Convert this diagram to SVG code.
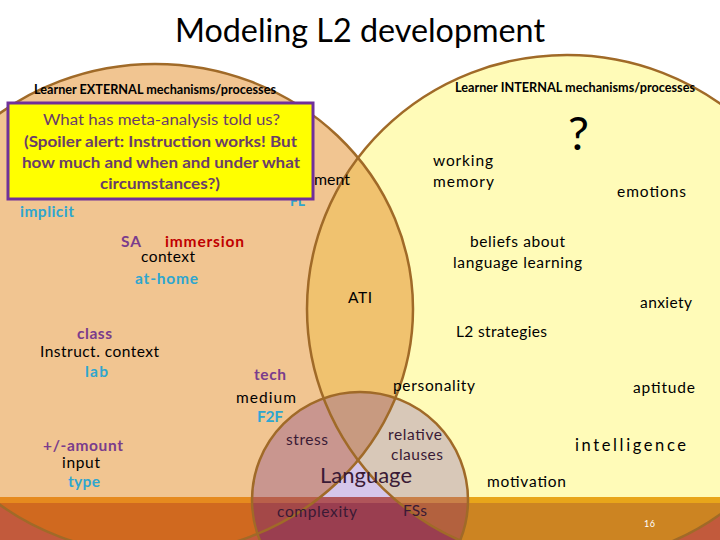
<svg xmlns="http://www.w3.org/2000/svg" width="720" height="540" viewBox="0 0 720 540">
<style>
text{font-family:Lato,"Open Sans","Liberation Sans",sans-serif;font-size:15.5px;fill:#000}
.b{font-weight:bold}
.pu{fill:#7A3C8C;font-weight:bold}
.te{fill:#2EA6CF;font-weight:bold}
.re{fill:#C00000;font-weight:bold}
.hd{font-size:12.5px;font-weight:bold}
.lg{fill:#3A1A35}
.bx{fill:#6A3D6A;font-size:15.5px}
.edge{fill:none;stroke:#A06A28;stroke-width:2.5}
</style>
<defs>
<clipPath id="cL"><ellipse cx="155" cy="309" rx="258" ry="245"/></clipPath>
<clipPath id="cR"><ellipse cx="567" cy="309" rx="260" ry="254"/></clipPath>
<clipPath id="cLang"><circle cx="360" cy="500" r="108"/></clipPath>
<clipPath id="cBand"><rect x="0" y="503" width="720" height="37"/></clipPath>
<clipPath id="cLine"><rect x="0" y="497" width="720" height="6"/></clipPath>
</defs>
<rect width="720" height="540" fill="#FFFFFF"/>
<g id="regions">
<ellipse cx="155" cy="309" rx="258" ry="245" fill="#F1C591"/>
<ellipse cx="567" cy="309" rx="260" ry="254" fill="#FFFBB8"/>
<g clip-path="url(#cR)"><ellipse cx="155" cy="309" rx="258" ry="245" fill="#F0C26F"/></g>
<g id="language-region" clip-path="url(#cLang)">
<rect x="240" y="380" width="240" height="160" fill="#D5C6EA"/>
<ellipse cx="155" cy="309" rx="258" ry="245" fill="#C9968F"/>
<ellipse cx="567" cy="309" rx="260" ry="254" fill="#D8C8B8"/>
<g clip-path="url(#cR)"><ellipse cx="155" cy="309" rx="258" ry="245" fill="#C89A80"/></g>
</g>
</g>
<g id="band">
<g clip-path="url(#cBand)">
<rect x="0" y="497" width="720" height="43" fill="#C25A3C"/>
<ellipse cx="155" cy="309" rx="258" ry="245" fill="#D0691F"/>
<ellipse cx="567" cy="309" rx="260" ry="254" fill="#CC8422"/>
<g clip-path="url(#cLang)">
<rect x="240" y="497" width="240" height="43" fill="#9A3E50"/>
<ellipse cx="155" cy="309" rx="258" ry="245" fill="#A44848"/>
<ellipse cx="567" cy="309" rx="260" ry="254" fill="#B3613E"/>
</g>
</g>
<g clip-path="url(#cLine)">
<rect x="0" y="497" width="720" height="6" fill="#D4703A"/>
<ellipse cx="155" cy="309" rx="258" ry="245" fill="#E68A1E"/>
<ellipse cx="567" cy="309" rx="260" ry="254" fill="#E8A51A"/>
<g clip-path="url(#cLang)">
<rect x="240" y="497" width="240" height="6" fill="#B0555A"/>
<ellipse cx="155" cy="309" rx="258" ry="245" fill="#B9604A"/>
<ellipse cx="567" cy="309" rx="260" ry="254" fill="#C98048"/>
</g>
</g>
</g>
<g id="connectors">
<ellipse class="edge" cx="155" cy="309" rx="258" ry="245"/>
<ellipse class="edge" cx="567" cy="309" rx="260" ry="254"/>
<circle class="edge" cx="360" cy="500" r="108" stroke="#A06A30"/>
</g>
<g id="title"><text x="175" y="42" textLength="370" lengthAdjust="spacingAndGlyphs" style="font-size:33px">Modeling L2 development</text></g>
<g id="external">
<text class="hd" x="34" y="94" textLength="242" lengthAdjust="spacingAndGlyphs">Learner EXTERNAL mechanisms/processes</text>
<text x="314" y="185" textLength="36" lengthAdjust="spacingAndGlyphs">ment</text>
<text class="te" x="290" y="206" textLength="15" lengthAdjust="spacingAndGlyphs">FL</text>
<text class="te" x="20" y="217" textLength="54" lengthAdjust="spacing">implicit</text>
<text class="pu" x="121" y="247" textLength="20" lengthAdjust="spacing">SA</text>
<text class="re" x="165" y="247" textLength="79" lengthAdjust="spacing">immersion</text>
<text x="141" y="262" textLength="54" lengthAdjust="spacing">context</text>
<text class="te" x="135" y="284" textLength="63" lengthAdjust="spacing">at-home</text>
<text class="pu" x="77" y="339" textLength="35" lengthAdjust="spacing">class</text>
<text x="40" y="357" textLength="119" lengthAdjust="spacing">Instruct. context</text>
<text class="te" x="85" y="377" textLength="23" lengthAdjust="spacing">lab</text>
<text class="pu" x="254" y="380" textLength="32" lengthAdjust="spacing">tech</text>
<text x="236" y="403" textLength="60" lengthAdjust="spacing">medium</text>
<text class="te" x="257" y="422" textLength="26" lengthAdjust="spacing">F2F</text>
<text class="pu" x="43" y="451" textLength="80" lengthAdjust="spacing">+/-amount</text>
<text x="62" y="468" textLength="38" lengthAdjust="spacing">input</text>
<text class="te" x="68" y="487" textLength="32" lengthAdjust="spacing">type</text>
</g>
<g id="callout">
<rect x="8" y="103" width="305" height="96" fill="#FFFF00" stroke="#70309A" stroke-width="3"/>
<text class="bx" x="161.5" y="125" text-anchor="middle" textLength="237" lengthAdjust="spacingAndGlyphs">What has meta-analysis told us?</text>
<text class="bx b" x="160.5" y="147" text-anchor="middle" textLength="273" lengthAdjust="spacingAndGlyphs">(Spoiler alert: Instruction works! But</text>
<text class="bx b" x="161" y="168" text-anchor="middle" textLength="278" lengthAdjust="spacingAndGlyphs">how much and when and under what</text>
<text class="bx b" x="160" y="189" text-anchor="middle" textLength="120" lengthAdjust="spacingAndGlyphs">circumstances?)</text>
</g>
<g id="overlap">
<text x="348" y="303" textLength="24" lengthAdjust="spacing">ATI</text>
</g>
<g id="internal">
<text class="hd" x="455" y="92" textLength="240" lengthAdjust="spacingAndGlyphs">Learner INTERNAL mechanisms/processes</text>
<text x="568" y="150" style="font-size:46px" textLength="21" lengthAdjust="spacingAndGlyphs">?</text>
<text x="433" y="166" textLength="60" lengthAdjust="spacing">working</text>
<text x="433" y="187" textLength="61" lengthAdjust="spacing">memory</text>
<text x="617" y="197" textLength="69" lengthAdjust="spacing">emotions</text>
<text x="470" y="247" textLength="95" lengthAdjust="spacing">beliefs about</text>
<text x="453" y="268" textLength="129" lengthAdjust="spacing">language learning</text>
<text x="640" y="308" textLength="52" lengthAdjust="spacing">anxiety</text>
<text x="456" y="337" textLength="91" lengthAdjust="spacing">L2 strategies</text>
<text x="393" y="391" textLength="82" lengthAdjust="spacing">personality</text>
<text x="633" y="393" textLength="62" lengthAdjust="spacing">aptitude</text>
<text x="575" y="451" textLength="111" lengthAdjust="spacing" style="font-size:16.5px">intelligence</text>
<text x="487" y="487" textLength="79" lengthAdjust="spacing">motivation</text>
</g>
<g id="language">
<text class="lg" x="286" y="445" textLength="42" lengthAdjust="spacing">stress</text>
<text class="lg" x="388" y="440" textLength="54" lengthAdjust="spacing">relative</text>
<text class="lg" x="391" y="460" textLength="52" lengthAdjust="spacing">clauses</text>
<text class="lg" x="320" y="483" style="font-size:22px" textLength="92" lengthAdjust="spacing">Language</text>
<text class="lg" x="277" y="517" textLength="80" lengthAdjust="spacing">complexity</text>
<text class="lg" x="403" y="516" textLength="24" lengthAdjust="spacing">FSs</text>
</g>
<g id="page"><text x="644" y="527" style="font-size:9px;fill:#FFFFFF" textLength="11" lengthAdjust="spacing">16</text></g>
</svg>
